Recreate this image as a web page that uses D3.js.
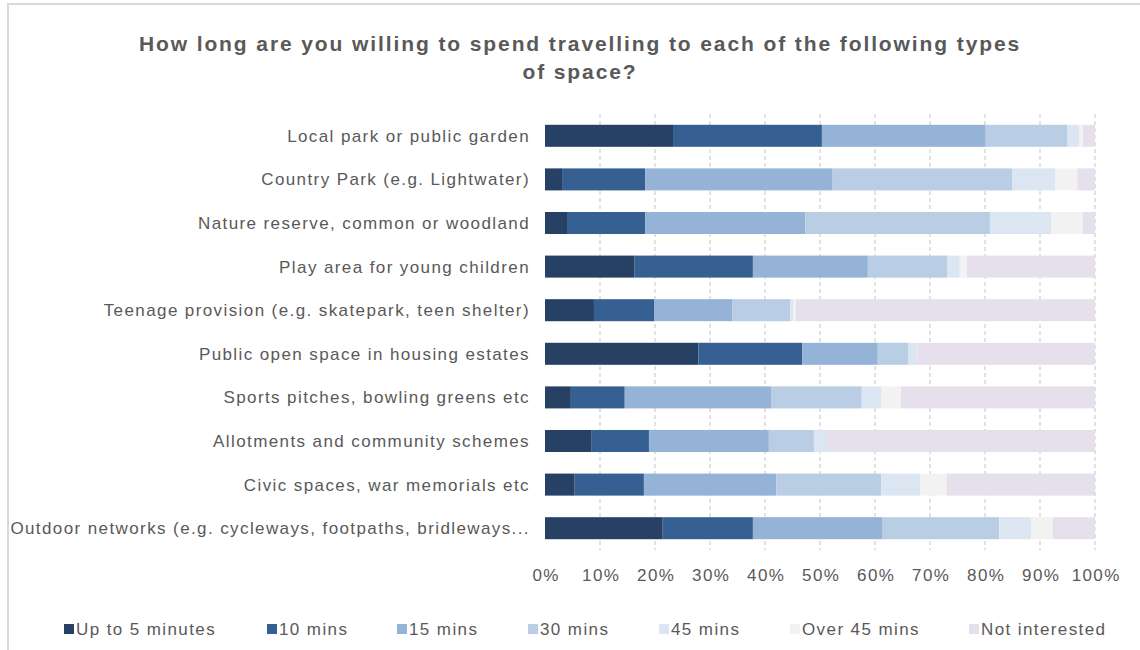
<!DOCTYPE html>
<html>
<head>
<meta charset="utf-8">
<script src="https://cdn.jsdelivr.net/npm/d3@7"></script>
<style>
  html, body { margin: 0; padding: 0; background: #ffffff; }
  svg { display: block; font-family: "Liberation Sans", Arial, sans-serif; }
</style>
</head>
<body>
<svg id="chart" width="1140" height="650"></svg>
<script>
// Spaces asked about, top to bottom
const categories = [
  "Local park or public garden",
  "Country Park (e.g. Lightwater)",
  "Nature reserve, common or woodland",
  "Play area for young children",
  "Teenage provision (e.g. skatepark, teen shelter)",
  "Public open space in housing estates",
  "Sports pitches, bowling greens etc",
  "Allotments and community schemes",
  "Civic spaces, war memorials etc",
  "Outdoor networks (e.g. cycleways, footpaths, bridleways..."
];

// Share of respondents (%) per travel time, one value per category
const upTo5Minutes  = [23.3,  3.1,  4.0, 16.3,  8.9, 27.9,  4.7,  8.5,  5.4, 21.4];
const tenMins       = [27.1, 15.1, 14.2, 21.5, 11.0, 18.9,  9.8, 10.4, 12.6, 16.4];
const fifteenMins   = [29.8, 34.1, 29.1, 20.9, 14.2, 13.7, 26.7, 21.8, 24.1, 23.6];
const thirtyMins    = [14.9, 32.7, 33.6, 14.4, 10.5,  5.6, 16.4,  8.2, 19.1, 21.2];
const fortyFiveMins = [ 2.2,  7.8, 11.1,  2.3,  0.5,  1.6,  3.6,  2.4,  7.1,  5.8];
const over45Mins    = [ 0.6,  4.0,  5.8,  1.3,  0.5,  0.0,  3.5,  0.0,  4.8,  3.9];
const notInterested = [ 2.2,  3.2,  2.2, 23.3, 54.4, 32.3, 35.3, 48.7, 27.0,  7.7];

const seriesNames = ["Up to 5 minutes", "10 mins", "15 mins", "30 mins", "45 mins", "Over 45 mins", "Not interested"];
const seriesValues = [upTo5Minutes, tenMins, fifteenMins, thirtyMins, fortyFiveMins, over45Mins, notInterested];
const colors = ["#264164", "#366092", "#95b3d7", "#b9cde5", "#dce6f2", "#f2f2f2", "#e5e0ec"];

const tickValues = [0, 0.1, 0.2, 0.3, 0.4, 0.5, 0.6, 0.7, 0.8, 0.9, 1.0];
const tickLabels = ["0%", "10%", "20%", "30%", "40%", "50%", "60%", "70%", "80%", "90%", "100%"];

const titleLines = ["How long are you willing to spend travelling to each of the following types", "of space?"];

// Rows for the stack
const rows = categories.map((c, i) => {
  const r = { category: c };
  seriesNames.forEach((s, j) => { r[s] = seriesValues[j][i]; });
  return r;
});

const svg = d3.select("#chart");
const textColor = "#595959";
const labelSize = 17;
const labelSpacing = "1.4px";

// chart frame
svg.append("rect")
  .attr("x", 8).attr("y", 4)
  .attr("width", 1200).attr("height", 700)
  .attr("fill", "none").attr("stroke", "#d9d9d9").attr("stroke-width", 2);

const plot = { left: 545, right: 1095, top: 114, bottom: 550 };

const x = d3.scaleLinear().domain([0, 1]).range([plot.left, plot.right]);
const y = d3.scaleBand().domain(categories).range([plot.top, plot.bottom]).paddingInner(0.495).paddingOuter(0.2475);

// vertical dashed gridlines
svg.append("g").selectAll("line")
  .data(tickValues.slice(1))
  .join("line")
  .attr("x1", d => x(d)).attr("x2", d => x(d))
  .attr("y1", plot.top).attr("y2", plot.bottom)
  .attr("stroke", "#d9d9d9")
  .attr("stroke-width", 1.5)
  .attr("stroke-dasharray", "4,3");

// stacked 100% bars
const stack = d3.stack().keys(seriesNames).offset(d3.stackOffsetExpand);
const layers = stack(rows);

svg.append("g").selectAll("g")
  .data(layers)
  .join("g")
  .attr("fill", (d, i) => colors[i])
  .selectAll("rect")
  .data(d => d)
  .join("rect")
  .attr("x", d => x(d[0]))
  .attr("width", d => Math.max(0, x(d[1]) - x(d[0])))
  .attr("y", d => y(d.data.category))
  .attr("height", y.bandwidth());

// category labels
svg.append("g").selectAll("text")
  .data(categories)
  .join("text")
  .attr("x", 530)
  .attr("y", d => y(d) + y.bandwidth() / 2)
  .attr("dy", "0.35em")
  .attr("text-anchor", "end")
  .attr("font-size", labelSize)
  .attr("letter-spacing", labelSpacing)
  .attr("fill", textColor)
  .text(d => d);

// x axis labels
const xAxis = d3.axisBottom(x)
  .tickValues(tickValues)
  .tickFormat((d, i) => tickLabels[i])
  .tickSize(0)
  .tickPadding(0);
const gx = svg.append("g").attr("transform", `translate(0, ${575})`).call(xAxis);
gx.select(".domain").remove();
gx.selectAll("text")
  .attr("font-size", labelSize)
  .attr("letter-spacing", labelSpacing)
  .attr("font-family", "Liberation Sans, Arial, sans-serif")
  .attr("fill", textColor)
  .attr("dy", "0.35em")
  .attr("dx", "0.7px")
  .attr("y", 0);

// title
svg.append("g").selectAll("text")
  .data(titleLines)
  .join("text")
  .attr("x", 580)
  .attr("y", (d, i) => 44 + i * 28)
  .attr("dy", "0.35em")
  .attr("text-anchor", "middle")
  .attr("font-size", 21)
  .attr("letter-spacing", "1.9px")
  .attr("font-weight", "bold")
  .attr("fill", textColor)
  .text(d => d);

// legend
const legendX = [64, 267, 397, 528, 659, 790, 969];
const legend = svg.append("g").selectAll("g")
  .data(seriesNames)
  .join("g")
  .attr("transform", (d, i) => `translate(${legendX[i]}, 629)`);
legend.append("rect")
  .attr("x", 0).attr("y", -5)
  .attr("width", 10).attr("height", 10)
  .attr("fill", (d, i) => colors[i]);
legend.append("text")
  .attr("x", 12)
  .attr("dy", "0.35em")
  .attr("font-size", labelSize)
  .attr("letter-spacing", labelSpacing)
  .attr("fill", textColor)
  .text(d => d);
</script>
</body>
</html>
